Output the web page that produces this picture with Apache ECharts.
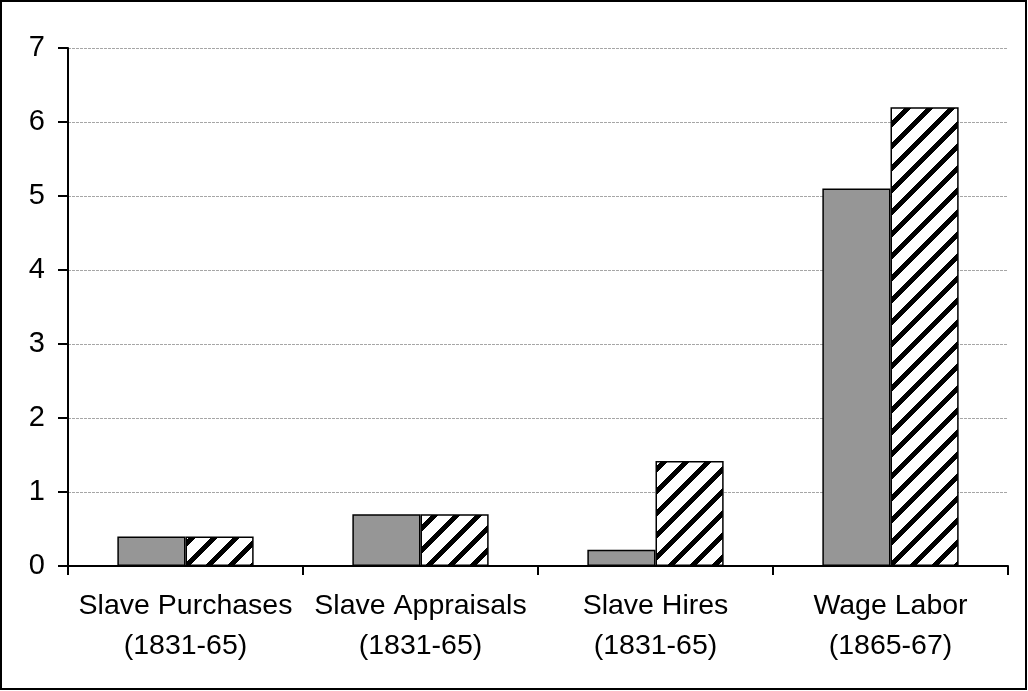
<!DOCTYPE html>
<html>
<head>
<meta charset="utf-8">
<style>
  html, body { margin: 0; padding: 0; background: #fff; }
  #chart { width: 1028px; height: 691px; }
</style>
<script src="https://cdn.jsdelivr.net/npm/echarts@6/dist/echarts.min.js"></script>
</head>
<body>
<div id="chart"></div>
<script>
// Category labels (two lines each) and the two bar series
const categories = [
  'Slave Purchases\n(1831-65)',
  'Slave Appraisals\n(1831-65)',
  'Slave Hires\n(1831-65)',
  'Wage Labor\n(1865-67)'
];
const solidValues = [0.4, 0.7, 0.22, 5.1];
const hatchedValues = [0.4, 0.7, 1.42, 6.2];
const yTicks = [0, 1, 2, 3, 4, 5, 6, 7];

// Hard-edged diagonal stripe tile ("/" direction), black on white
function makeHatch() {
  const size = 22, band = 7;
  const c = document.createElement('canvas');
  c.width = size; c.height = size;
  const ctx = c.getContext('2d');
  ctx.fillStyle = '#fff';
  ctx.fillRect(0, 0, size, size);
  ctx.fillStyle = '#000';
  for (let x = 0; x < size; x++) {
    for (let y = 0; y < size; y++) {
      if ((x + y) % size < band) ctx.fillRect(x, y, 1, 1);
    }
  }
  return c;
}

const font = '"Liberation Sans", Arial, sans-serif';
const chart = echarts.init(document.getElementById('chart'), null, { renderer: 'canvas' });

chart.setOption({
  animation: false,
  backgroundColor: '#fff',
  grid: { left: 68, right: 20, top: 48, bottom: 125, containLabel: false },
  graphic: [{
    type: 'rect',
    shape: { x: 1, y: 1, width: 1025, height: 688 },
    style: { fill: 'none', stroke: '#000', lineWidth: 2 },
    silent: true
  }],
  xAxis: {
    type: 'category',
    data: categories,
    axisLine: { lineStyle: { color: '#000', width: 2 } },
    axisTick: { show: true, length: 9, lineStyle: { color: '#000', width: 2 } },
    axisLabel: {
      color: '#000', fontFamily: font, fontSize: 28.5, lineHeight: 40,
      margin: 20, interval: 0
    },
    splitLine: { show: false }
  },
  yAxis: {
    type: 'value',
    min: yTicks[0],
    max: yTicks[yTicks.length - 1],
    interval: 1,
    axisLine: { show: true, lineStyle: { color: '#000', width: 2 } },
    axisTick: { show: true, length: 10, lineStyle: { color: '#000', width: 2 } },
    axisLabel: { color: '#000', fontFamily: font, fontSize: 29, margin: 23 },
    splitLine: { show: true, lineStyle: { color: '#a6a6a6', type: [3, 1], width: 1 } }
  },
  series: [
    {
      type: 'bar',
      data: solidValues,
      barGap: '0%',
      barCategoryGap: '42%',
      itemStyle: { color: '#969696', borderColor: '#000', borderWidth: 1.5 }
    },
    {
      type: 'bar',
      data: hatchedValues,
      barGap: '0%',
      barCategoryGap: '42%',
      itemStyle: {
        color: { image: makeHatch(), repeat: 'repeat' },
        borderColor: '#000', borderWidth: 1.5
      }
    }
  ]
});
</script>
</body>
</html>
